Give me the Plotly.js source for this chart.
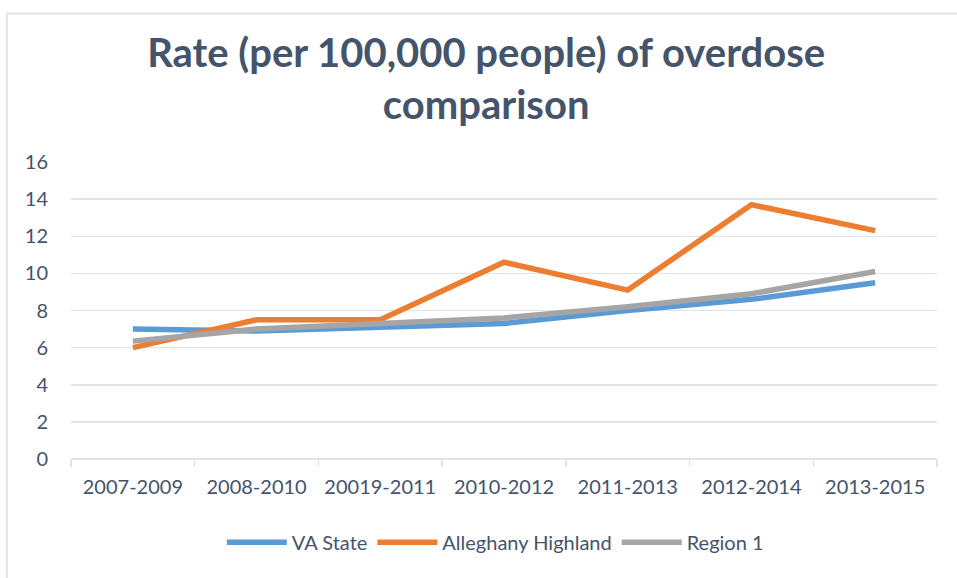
<!DOCTYPE html>
<html>
<head>
<meta charset="utf-8">
<script src="https://cdn.plot.ly/plotly-3.0.1.min.js"></script>
<style>
  html, body { margin: 0; padding: 0; background: #fff; }
  #chart { width: 957px; height: 578px; }
</style>
</head>
<body>
<div id="chart"></div>
<script>
// periods along the x axis
var periods = ['2007-2009', '2008-2010', '20019-2011', '2010-2012', '2011-2013', '2012-2014', '2013-2015'];

// rates per 100,000 people
var vaState    = [7.0, 6.9, 7.1, 7.3, 8.0, 8.6, 9.5];
var alleghany  = [6.0, 7.5, 7.5, 10.6, 9.1, 13.7, 12.3];
var region1    = [6.35, 7.0, 7.3, 7.6, 8.2, 8.9, 10.1];

var textColor = '#44546A';
var gridColor = '#dfe3ea';
var font = 'Lato, "Open Sans", sans-serif';

function line(name, y, color) {
  return {
    x: periods,
    y: y,
    name: name,
    type: 'scatter',
    mode: 'lines',
    line: {color: color, width: 5.5}
  };
}

var data = [
  line('VA State', vaState, '#5B9BD5'),
  line('Alleghany Highland', alleghany, '#ED7D31'),
  line('Region 1', region1, '#A5A5A5')
];

var layout = {
  width: 957,
  height: 578,
  paper_bgcolor: '#fff',
  plot_bgcolor: '#fff',
  font: {family: font, size: 20, color: textColor},
  margin: {l: 71, r: 20, t: 162, b: 119},
  title: {
    text: '<b>Rate (per 100,000 people) of overdose<br>comparison</b>',
    font: {family: font, size: 40, color: textColor},
    x: 0.508,
    xanchor: 'center',
    y: 0.884,
    yanchor: 'top'
  },
  xaxis: {
    type: 'category',
    showgrid: false,
    zeroline: false,
    showline: false,
    ticks: 'outside',
    tickson: 'boundaries',
    ticklen: 7,
    tickcolor: gridColor,
    tickwidth: 1.5,
    ticklabelstandoff: 14,
    tickfont: {size: 20, color: textColor},
    range: [-0.5, 6.5]
  },
  yaxis: {
    range: [0, 16],
    dtick: 2,
    showgrid: true,
    gridcolor: gridColor,
    gridwidth: 1.5,
    zeroline: true,
    zerolinecolor: gridColor,
    zerolinewidth: 1.5,
    showline: false,
    ticks: '',
    ticklabelstandoff: 22,
    tickfont: {size: 20, color: textColor}
  },
  showlegend: true,
  legend: {
    orientation: 'h',
    x: 0.49,
    xanchor: 'center',
    y: -0.215,
    yanchor: 'top',
    font: {size: 20, color: textColor},
    itemwidth: 60
  },
  shapes: [{
    type: 'rect',
    xref: 'paper', yref: 'paper',
    x0: -0.074, x1: 1.05, y0: -0.45, y1: 1.5,
    line: {color: '#e1e5ea', width: 2}
  }]
};

Plotly.newPlot('chart', data, layout, {displayModeBar: false, staticPlot: true});
</script>
</body>
</html>
